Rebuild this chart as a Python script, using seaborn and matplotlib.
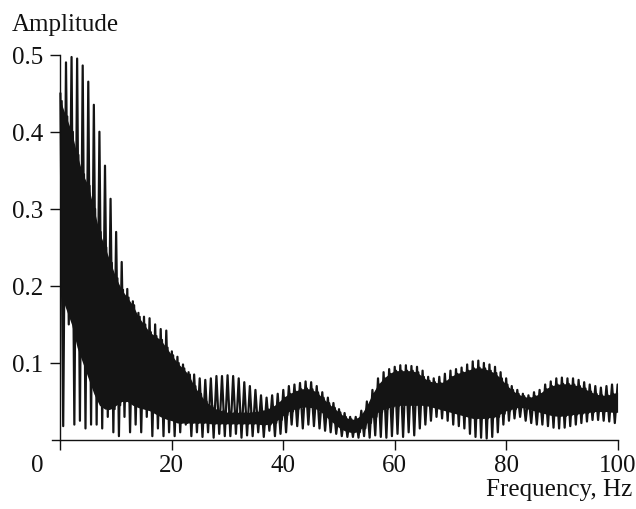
import numpy as np
import pandas as pd
import matplotlib
matplotlib.use("Agg")
import matplotlib.pyplot as plt
import matplotlib.transforms as mtransforms
import seaborn as sns

# frequency grid of the spike tops (Hz) and of the spike bottoms in between
freq = np.arange(0, 101, 1.0)
freq_mid = np.arange(0.5, 100, 1.0)

# tips of the upward spikes
spike_hi = [
    0.45, 0.49, 0.497, 0.495, 0.486, 0.465, 0.435, 0.40, 0.356, 0.313,
    0.27, 0.231, 0.196, 0.18, 0.165, 0.16, 0.158, 0.15, 0.144, 0.142,
    0.115, 0.108, 0.098, 0.088, 0.085, 0.08, 0.078, 0.08, 0.083, 0.083,
    0.084, 0.083, 0.08, 0.075, 0.07, 0.065, 0.058, 0.055, 0.058, 0.06,
    0.065, 0.07, 0.072, 0.074, 0.076, 0.075, 0.07, 0.062, 0.055, 0.048,
    0.04, 0.035, 0.03, 0.03, 0.038, 0.05, 0.065, 0.08, 0.088, 0.092,
    0.095, 0.097, 0.097, 0.096, 0.095, 0.09, 0.082, 0.08, 0.082, 0.086,
    0.09, 0.092, 0.094, 0.098, 0.102, 0.103, 0.10, 0.098, 0.095, 0.088,
    0.08, 0.07, 0.065, 0.06, 0.058, 0.062, 0.065, 0.072, 0.076, 0.08,
    0.081, 0.08, 0.08, 0.078, 0.075, 0.072, 0.07, 0.068, 0.07, 0.072,
    0.072,
]

# tips of the downward spikes (at freq_mid)
spike_lo = [
    0.018, 0.15, 0.02, 0.025, 0.015, 0.02, 0.02, 0.015, 0.03, 0.01,
    0.005, 0.03, 0.01, 0.02, 0.01, 0.03, 0.005, 0.015, 0.005, 0.01,
    0.005, 0.01, 0.02, 0.005, 0.01, 0.004, 0.01, 0.003, 0.008, 0.005,
    0.005, 0.008, 0.003, 0.006, 0.005, 0.01, 0.004, 0.012, 0.005, 0.008,
    0.01, 0.02, 0.018, 0.015, 0.02, 0.018, 0.015, 0.012, 0.01, 0.008,
    0.005, 0.004, 0.004, 0.003, 0.005, 0.003, 0.006, 0.004, 0.003, 0.005,
    0.008, 0.004, 0.01, 0.006, 0.015, 0.02, 0.025, 0.03, 0.028, 0.025,
    0.02, 0.018, 0.015, 0.008, 0.004, 0.003, 0.002, 0.004, 0.01, 0.02,
    0.025, 0.028, 0.03, 0.025, 0.022, 0.02, 0.02, 0.018, 0.016, 0.015,
    0.016, 0.018, 0.02, 0.022, 0.024, 0.026, 0.026, 0.025, 0.024, 0.022,
]

# dense black band of the spectrum (upper and lower edge)
core_hi = [
    0.44, 0.42, 0.40, 0.37, 0.345, 0.33, 0.30, 0.27, 0.25, 0.23,
    0.21, 0.195, 0.185, 0.175, 0.16, 0.15, 0.14, 0.135, 0.13, 0.12,
    0.11, 0.10, 0.093, 0.085, 0.07, 0.06, 0.05, 0.045, 0.04, 0.038,
    0.036, 0.036, 0.036, 0.036, 0.036, 0.037, 0.038, 0.04, 0.043, 0.048,
    0.055, 0.06, 0.063, 0.066, 0.067, 0.066, 0.062, 0.055, 0.048, 0.042,
    0.036, 0.03, 0.027, 0.027, 0.033, 0.045, 0.06, 0.072, 0.08, 0.086,
    0.09, 0.09, 0.09, 0.09, 0.088, 0.082, 0.077, 0.075, 0.074, 0.076,
    0.082, 0.086, 0.088, 0.09, 0.093, 0.094, 0.093, 0.09, 0.087, 0.08,
    0.072, 0.065, 0.06, 0.057, 0.055, 0.057, 0.06, 0.066, 0.07, 0.072,
    0.073, 0.073, 0.072, 0.07, 0.067, 0.063, 0.06, 0.058, 0.058, 0.06,
    0.062,
]
core_lo = [
    0.19, 0.17, 0.15, 0.12, 0.10, 0.08, 0.06, 0.045, 0.04, 0.04,
    0.045, 0.05, 0.05, 0.045, 0.042, 0.04, 0.038, 0.034, 0.03, 0.027,
    0.025, 0.022, 0.022, 0.022, 0.022, 0.022, 0.022, 0.021, 0.021, 0.021,
    0.021, 0.021, 0.021, 0.021, 0.021, 0.021, 0.02, 0.02, 0.022, 0.026,
    0.032, 0.037, 0.04, 0.042, 0.043, 0.042, 0.04, 0.035, 0.028, 0.022,
    0.016, 0.012, 0.01, 0.01, 0.015, 0.022, 0.03, 0.036, 0.04, 0.042,
    0.044, 0.045, 0.045, 0.045, 0.045, 0.045, 0.044, 0.042, 0.04, 0.038,
    0.036, 0.034, 0.032, 0.03, 0.028, 0.028, 0.028, 0.029, 0.03, 0.034,
    0.038, 0.04, 0.042, 0.042, 0.04, 0.038, 0.036, 0.034, 0.032, 0.031,
    0.031, 0.032, 0.033, 0.034, 0.035, 0.036, 0.037, 0.037, 0.037, 0.036,
    0.036,
]

x_ticks = [0, 20, 40, 60, 80, 100]
y_ticks = [0.1, 0.2, 0.3, 0.4, 0.5]

sns.set_style("ticks")
plt.rcParams["font.family"] = ["Liberation Serif", "DejaVu Serif"]

# outer zigzag: top at each whole Hz, bottom at each half Hz
zig = pd.DataFrame({
    "f": np.concatenate([freq, freq_mid]),
    "a": np.concatenate([spike_hi, spike_lo]),
}).sort_values("f")

# inner zigzag for the ragged edges of the dense band
core = pd.DataFrame({
    "f": np.concatenate([freq + 0.25, freq + 0.75]),
    "a": np.concatenate([core_hi, core_lo]),
}).sort_values("f")
core = core[core["f"] <= 100]

fig = plt.figure(figsize=(6.36, 5.10), dpi=100)
ax = fig.add_axes([51.5 / 636, 69 / 510, 566.1 / 636, 385.3 / 510])

ax.fill_between(freq, core_lo, core_hi, color="#141414", lw=0)
sns.lineplot(data=core, x="f", y="a", ax=ax, sort=False, estimator=None,
             color="#141414", lw=1.4)
sns.lineplot(data=zig, x="f", y="a", ax=ax, sort=False, estimator=None,
             color="#141414", lw=1.6)

ax.set_xlim(-1.6, 100)
ax.set_ylim(0, 0.5)
ax.spines["left"].set_position(("data", 0))
ax.spines["top"].set_visible(False)
ax.spines["right"].set_visible(False)
for s in ("left", "bottom"):
    ax.spines[s].set_linewidth(1.0)
    ax.spines[s].set_color("#111111")

ax.set_xticks(x_ticks)
ax.set_xticklabels([str(v) for v in x_ticks])
ax.set_yticks(y_ticks)
ax.set_yticklabels([f"{v:.1f}" for v in y_ticks])
ax.tick_params(axis="x", direction="out", length=7, width=1, pad=3,
               labelsize=18, colors="#111111")
ax.tick_params(axis="y", direction="out", length=7, width=1, pad=5,
               labelsize=18, colors="#111111")

# the "0" sits in the corner, left of the origin
zero_lab = ax.get_xticklabels()[0]
zero_lab.set_transform(zero_lab.get_transform() +
                       mtransforms.ScaledTranslation(-0.235, 0, fig.dpi_scale_trans))

ax.set_xlabel("")
ax.set_ylabel("")
fig.text(12 / 636, 1 - 25 / 510, "Amplitude", fontsize=18, ha="left", va="center",
         color="#111111")
fig.text(632 / 636, 1 - 490 / 510, "Frequency, Hz", fontsize=18, ha="right",
         va="center", color="#111111")

fig.savefig("out.png", dpi=100)
